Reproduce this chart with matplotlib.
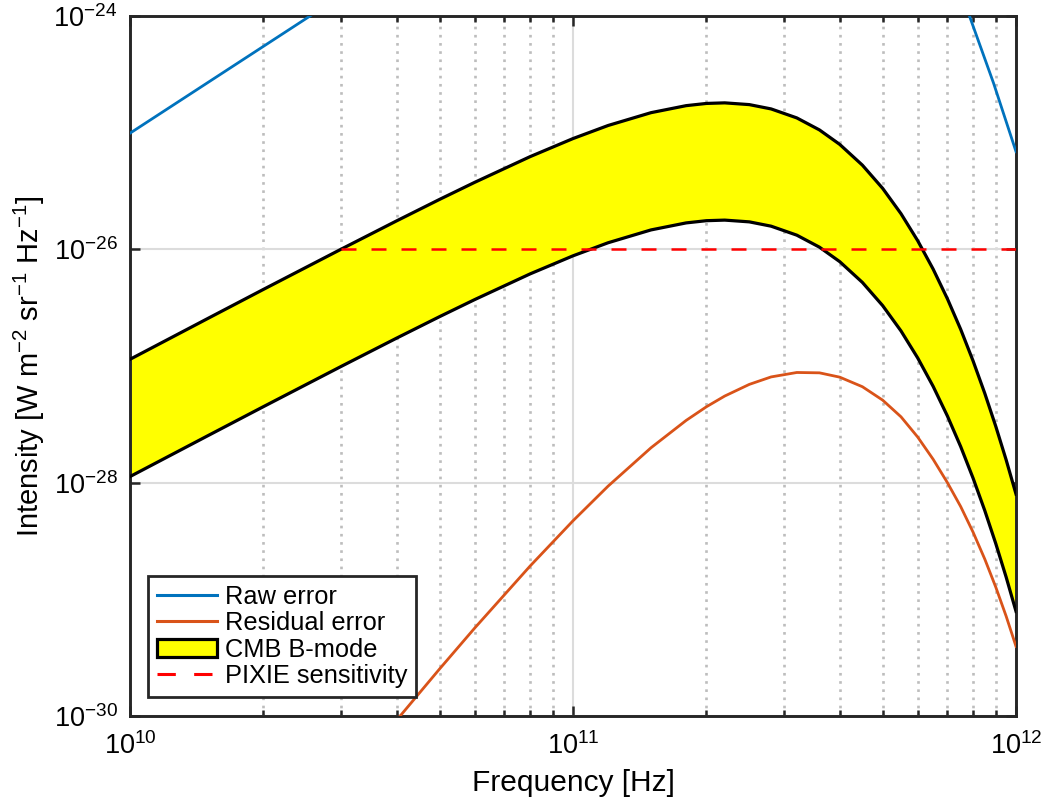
import numpy as np
import matplotlib
matplotlib.use('Agg')
import matplotlib.pyplot as plt
from matplotlib.patches import Patch
from matplotlib.lines import Line2D
from matplotlib.ticker import LogLocator, NullFormatter, NullLocator

plt.rcParams['font.family'] = ['Liberation Sans', 'DejaVu Sans']
plt.rcParams['mathtext.fontset'] = 'custom'
plt.rcParams['mathtext.rm'] = 'Liberation Sans'
plt.rcParams['mathtext.it'] = 'Liberation Sans:italic'

# CMB B-mode band: frequency in GHz, log10 intensity (W m^-2 sr^-1 Hz^-1)
band_ghz = [10, 15, 20, 30, 40, 50, 60, 80, 100, 120, 150, 180, 200, 220, 250,
            280, 320, 360, 400, 450, 500, 550, 600, 650, 700, 750, 800, 850,
            900, 950, 1000]
band_upper_log = [-26.943, -26.592, -26.344, -25.998, -25.756, -25.572, -25.426,
                  -25.206, -25.051, -24.939, -24.829, -24.769, -24.750, -24.745,
                  -24.760, -24.797, -24.874, -24.977, -25.101, -25.279, -25.478,
                  -25.695, -25.927, -26.170, -26.424, -26.686, -26.957, -27.234,
                  -27.517, -27.805, -28.099]
band_lower_log = [-27.948, -27.597, -27.349, -27.003, -26.761, -26.577, -26.431,
                  -26.211, -26.056, -25.944, -25.834, -25.774, -25.755, -25.750,
                  -25.765, -25.802, -25.879, -25.982, -26.106, -26.284, -26.483,
                  -26.700, -26.932, -27.175, -27.429, -27.691, -27.962, -28.239,
                  -28.522, -28.810, -29.104]

# residual error
resid_ghz = [38, 40, 50, 60, 80, 100, 120, 150, 180, 200, 220, 250, 280, 320,
             360, 400, 450, 500, 550, 600, 650, 700, 750, 800, 850, 900, 950, 1000]
resid_log = [-30.14, -30.035, -29.596, -29.246, -28.715, -28.327, -28.030,
             -27.701, -27.467, -27.350, -27.258, -27.158, -27.094, -27.056,
             -27.059, -27.096, -27.178, -27.293, -27.436, -27.610, -27.800,
             -28.000, -28.205, -28.425, -28.655, -28.895, -29.145, -29.404]

# raw error (two pieces that enter the plot window)
raw_lo_ghz = [10, 25.5, 30]
raw_lo_log = [-25.005, -24.0, -23.83]
raw_hi_ghz = [760, 785, 890, 1000]
raw_hi_log = [-23.85, -24.0, -24.577, -25.163]

# PIXIE sensitivity
pixie_ghz = [30, 1000]
pixie_val = [1e-26, 1e-26]

ghz = 1e9
blue = '#0072BD'
orange = '#D95319'

fig = plt.figure(figsize=(10.52, 8.05), dpi=100)
ax = fig.add_axes([0.1236, 0.1106, 0.8422, 0.8696])

f_band = np.array(band_ghz) * ghz
up = 10.0 ** np.array(band_upper_log)
lo = 10.0 ** np.array(band_lower_log)
ax.fill_between(f_band, lo, up, color='#FFFF00', lw=0, zorder=2)
ax.plot(f_band, up, color='black', lw=2.3, zorder=3)
ax.plot(f_band, lo, color='black', lw=2.3, zorder=3)

ax.plot(np.array(raw_lo_ghz) * ghz, 10.0 ** np.array(raw_lo_log), color=blue, lw=2, zorder=4)
ax.plot(np.array(raw_hi_ghz) * ghz, 10.0 ** np.array(raw_hi_log), color=blue, lw=2, zorder=4)
ax.plot(np.array(resid_ghz) * ghz, 10.0 ** np.array(resid_log), color=orange, lw=2, zorder=4)
ax.plot(np.array(pixie_ghz) * ghz, pixie_val, color='red', lw=1.8, dashes=(6, 6), zorder=4)

ax.set_xscale('log')
ax.set_yscale('log')
ax.set_xlim(1e10, 1e12)
ax.set_ylim(1e-30, 1e-24)

ax.set_yticks([1e-30, 1e-28, 1e-26, 1e-24])
ax.yaxis.set_minor_locator(NullLocator())
ax.xaxis.set_minor_locator(LogLocator(base=10, subs=np.arange(2, 10)))
ax.xaxis.set_minor_formatter(NullFormatter())

ax.set_axisbelow(True)
ax.grid(True, which='major', color='#dcdcdc', lw=1.5, ls='-')
ax.grid(True, which='minor', axis='x', color='#bdbdbd', lw=1.9, dashes=(1, 2.1))

ax.tick_params(which='both', direction='in', top=True, right=True,
               color='#262626', labelsize=19.5)
ax.tick_params(which='major', length=7, width=1.8)
ax.tick_params(which='minor', length=4.3, width=1.8)
ax.tick_params(axis='y', pad=9)
ax.tick_params(axis='x', pad=12)
for s in ax.spines.values():
    s.set_linewidth(2.1)
    s.set_color('#262626')

ax.set_xlabel('Frequency [Hz]', fontsize=21.5, labelpad=6)
ax.set_ylabel('Intensity [W m$^{-2}$ sr$^{-1}$ Hz$^{-1}$]', fontsize=21, labelpad=5)

handles = [
    Line2D([], [], color=blue, lw=2.2),
    Line2D([], [], color=orange, lw=2.2),
    Patch(facecolor='#FFFF00', edgecolor='black', lw=2.3),
    Line2D([], [], color='red', lw=2.2, dashes=(6, 6)),
]
labels = ['Raw error', 'Residual error', 'CMB B-mode', 'PIXIE sensitivity']
leg = ax.legend(handles, labels, loc='lower left', bbox_to_anchor=(0.0203, 0.027),
                borderaxespad=0, fontsize=18.3, fancybox=False, framealpha=1,
                edgecolor='#262626', handlelength=2.36, handletextpad=0.3,
                labelspacing=0.1, borderpad=0.35)
leg.get_frame().set_linewidth(2)

fig.savefig('out.png', dpi=100)
